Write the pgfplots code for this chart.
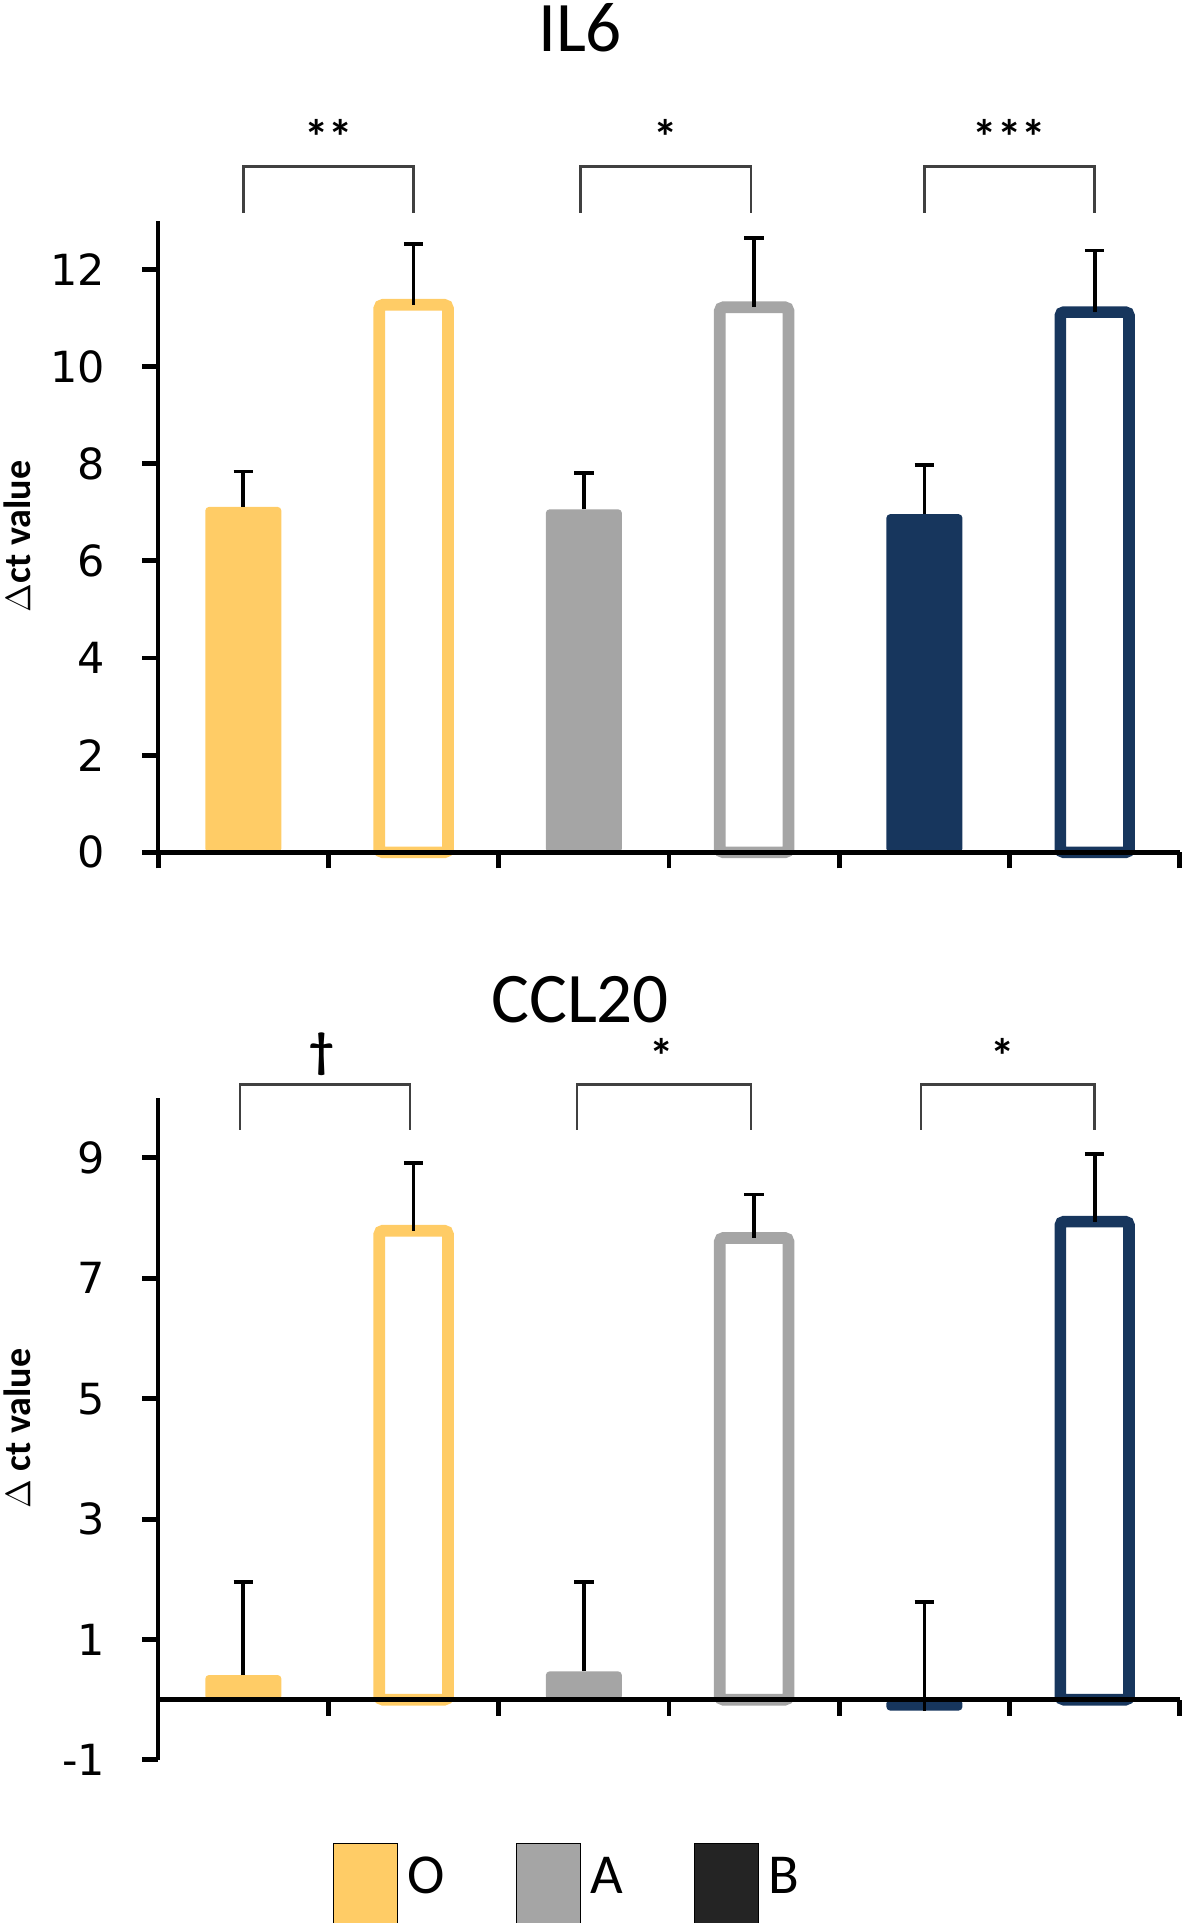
\documentclass[border=0pt]{standalone}
\usepackage{fontspec}
\setmainfont{Carlito}
\newfontfamily\tickfont{DejaVu Sans}
\usepackage{pgfplots}
\pgfplotsset{compat=1.18}

\definecolor{cO}{HTML}{FFCC66}
\definecolor{cA}{HTML}{A5A5A5}
\definecolor{cB}{HTML}{17365D}
\definecolor{cBleg}{HTML}{242424}
\definecolor{brk}{HTML}{404040}

\tikzset{
  brack/.style={draw=brk, line width=1bp},
  sig/.style={font=\bfseries\fontsize{20bp}{22bp}\selectfont},
}

\pgfplotsset{
  dct/.style={
    scale only axis, width=416.5bp,
    xmin=-0.5, xmax=5.5,
    xtick={-0.5,0.5,...,5.5}, xticklabels={},
    axis y line*=left,
    axis line style={-, line width=1.8bp, black},
    tick style={line width=2bp, black},
    major tick length=6.5bp,
    tick align=outside,
    /pgf/number format/assume math mode=true,
    yticklabel style={font=\tickfont\fontsize{17.5bp}{20bp}\selectfont, inner xsep=0pt},
    yticklabel shift=15bp,
    ylabel style={font=\bfseries\fontsize{15.5bp}{18bp}\selectfont,
      at={(axis description cs:-0.138,0.5)}, anchor=center},
    title style={font=\fontsize{29bp}{32bp}\selectfont, anchor=center},
    clip=false, axis on top,
  },
  eb/.style={
    /pgfplots/error bars/y dir=plus,
    /pgfplots/error bars/y explicit,
    /pgfplots/error bars/error bar style={line width=1.5bp, black},
    /pgfplots/error bars/error mark options={rotate=90, mark size=4bp, line width=1.5bp, black},
  },
  filledbar/.style={ybar, bar shift=0pt, bar width=31bp, fill=#1, draw=none,
    rounded corners=1.5bp, forget plot, eb},
  openbar/.style={ybar, bar shift=0pt, bar width=28bp, fill=white, draw=#1,
    line width=4.75bp, rounded corners=1.5bp, forget plot, eb},
}

\begin{document}
\begin{tikzpicture}
\useasboundingbox (0,0) rectangle (481.5bp,-784bp);

% IL6
\begin{axis}[dct,
  at={(64.5bp,-347.5bp)}, anchor=south west,
  height=257.5bp,
  axis x line*=bottom,
  ymin=0, ymax=13, ytick={0,2,...,12},
  ylabel={$\Delta$ct value},
  title={IL6}, title style={at={(0.413,1.283)}},
]
\addplot[filledbar=cO] coordinates {(0,7.11) +- (0,0.73)};
\addplot[openbar=cO]   coordinates {(1,11.27) +- (0,1.25)};
\addplot[filledbar=cA] coordinates {(2,7.06) +- (0,0.75)};
\addplot[openbar=cA]   coordinates {(3,11.22) +- (0,1.42)};
\addplot[filledbar=cB] coordinates {(4,6.96) +- (0,1.01)};
\addplot[openbar=cB]   coordinates {(5,11.12) +- (0,1.27)};

\draw[brack] (axis cs:0,13.16) -- (axis cs:0,14.12) -- (axis cs:1,14.12) -- (axis cs:1,13.16);
\draw[brack] (axis cs:1.98,13.16) -- (axis cs:1.98,14.12) -- (axis cs:2.98,14.12) -- (axis cs:2.98,13.16);
\draw[brack] (axis cs:4,13.16) -- (axis cs:4,14.12) -- (axis cs:5,14.12) -- (axis cs:5,13.16);
\node[sig] at (axis cs:0.5,14.72) {**};
\node[sig] at (axis cs:2.48,14.72) {*};
\node[sig] at (axis cs:4.5,14.72) {***};
\end{axis}

% CCL20
\begin{axis}[dct,
  at={(64.5bp,-717.5bp)}, anchor=south west,
  height=270bp,
  axis x line*=middle,
  ymin=-1, ymax=10, ytick={-1,1,...,9},
  ylabel={$\Delta$ ct value},
  title={CCL20}, title style={at={(0.413,1.126)}},
  legend columns=3,
  legend cell align=left,
  legend style={draw=none, fill=none, inner sep=0pt,
    at={(axis description cs:0.1705,-0.124)}, anchor=north west,
    font=\fontsize{23bp}{25bp}\selectfont,
    nodes={inner xsep=4bp, inner ysep=0pt},
    /tikz/every even column/.append style={column sep=25bp}},
  legend image code/.code={\fill[#1] (0bp,-30bp) rectangle (26bp,14bp);},
]
\addplot[filledbar=cO] coordinates {(0,0.41) +- (0,1.55)};
\addplot[openbar=cO]   coordinates {(1,7.79) +- (0,1.13)};
\addplot[filledbar=cA] coordinates {(2,0.47) +- (0,1.49)};
\addplot[openbar=cA]   coordinates {(3,7.67) +- (0,0.72)};
\addplot[filledbar=cB] coordinates {(4,-0.18) +- (0,1.80)};
\addplot[openbar=cB]   coordinates {(5,7.94) +- (0,1.12)};

\addlegendimage{fill=cO}\addlegendentry{O}
\addlegendimage{fill=cA}\addlegendentry{A}
\addlegendimage{fill=cBleg}\addlegendentry{B}

\draw[brack] (axis cs:-0.02,9.47) -- (axis cs:-0.02,10.22) -- (axis cs:0.98,10.22) -- (axis cs:0.98,9.47);
\draw[brack] (axis cs:1.96,9.47) -- (axis cs:1.96,10.22) -- (axis cs:2.98,10.22) -- (axis cs:2.98,9.47);
\draw[brack] (axis cs:3.98,9.47) -- (axis cs:3.98,10.22) -- (axis cs:5,10.22) -- (axis cs:5,9.47);
\node[sig] at (axis cs:0.46,10.72) {\symbol{"2020}};
\node[sig] at (axis cs:2.46,10.69) {*};
\node[sig] at (axis cs:4.46,10.69) {*};
\end{axis}
\end{tikzpicture}
\end{document}
